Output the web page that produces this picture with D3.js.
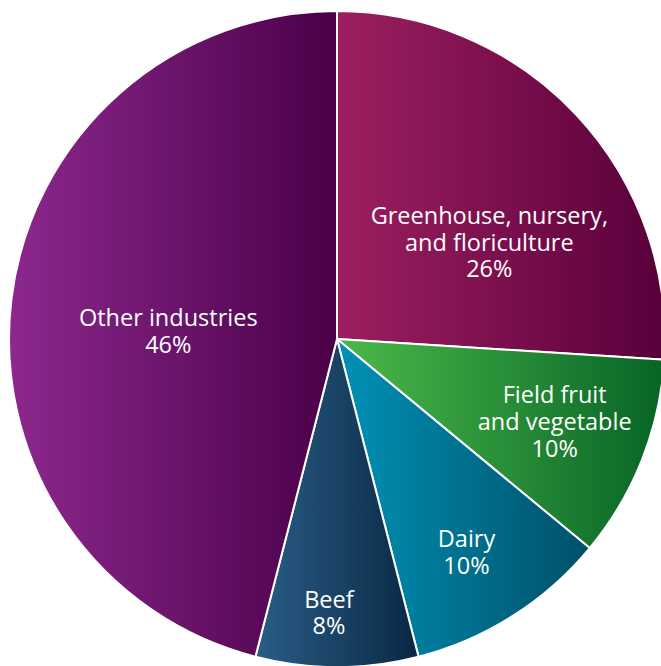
<!DOCTYPE html>
<html lang="en">
<head>
  <meta charset="UTF-8">
  <title>Farm cash receipts share</title>
  <script src="https://cdn.jsdelivr.net/npm/d3@7"></script>
  <style>
    body { margin: 0; background: #fff; }
    .slice_label { font-family: "Open Sans", "DejaVu Sans", sans-serif; font-size: 23.5px; fill: #fff; }
  </style>
</head>
<body>
  <div id="main" style="width: 661px; height: 666px"></div>
  <script>
    // data
    var categories = ["Greenhouse, nursery, and floriculture", "Field fruit and vegetable", "Dairy", "Beef", "Other industries"];
    var values = [26, 10, 10, 8, 46];
    var labelLines = [
      ["Greenhouse, nursery,", "and floriculture", "26%"],
      ["Field fruit", "and vegetable", "10%"],
      ["Dairy", "10%"],
      ["Beef", "8%"],
      ["Other industries", "46%"]
    ];

    // colours: left -> right gradient per slice
    var colorLeft = ["#9d1f60", "#4cba4a", "#0092b6", "#2a5d86", "#8d288e"];
    var colorRight = ["#58003a", "#076426", "#004f68", "#082844", "#4a0048"];

    // label placement: [radius as share of r, angle nudge in degrees]
    var labelPlace = [[0.55, 10.8], [0.71, -0.8], [0.76, 1.1], [0.835, 1.7], [0.515, -4.5]];

    var width = 661, height = 666;
    var cx = 337, cy = 339, r = 328;
    var lineH = 26.7;

    var svg = d3.select("#main").append("svg")
      .attr("width", width)
      .attr("height", height);

    var defs = svg.append("defs");
    categories.forEach(function (c, i) {
      var g = defs.append("linearGradient")
        .attr("id", "grad" + i)
        .attr("x1", "0%").attr("x2", "100%")
        .attr("y1", "0%").attr("y2", "0%");
      g.append("stop").attr("offset", "0%").attr("stop-color", colorLeft[i]);
      g.append("stop").attr("offset", "100%").attr("stop-color", colorRight[i]);
    });

    var pie = d3.pie().sort(null).value(function (d) { return d; });
    var arcs = pie(values);

    var arc = d3.arc().innerRadius(0).outerRadius(r);

    var g = svg.append("g").attr("transform", "translate(" + cx + "," + cy + ")");

    g.selectAll("path.slice").data(arcs).enter().append("path")
      .attr("class", "slice")
      .attr("d", arc)
      .attr("fill", function (d, i) { return "url(#grad" + i + ")"; })
      .attr("stroke", "#fff")
      .attr("stroke-width", 2)
      .attr("stroke-linejoin", "round");

    // labels
    g.selectAll("text.slice_label").data(arcs).enter().append("text")
      .attr("class", "slice_label")
      .attr("text-anchor", "middle")
      .each(function (d, i) {
        var mid = (d.startAngle + d.endAngle) / 2 + labelPlace[i][1] * Math.PI / 180;
        var rr = r * labelPlace[i][0];
        var x = rr * Math.sin(mid), y = -rr * Math.cos(mid);
        var lines = labelLines[i];
        var y0 = y - (lines.length - 1) * lineH / 2;
        var t = d3.select(this);
        lines.forEach(function (s, k) {
          t.append("tspan")
            .attr("x", x)
            .attr("y", y0 + k * lineH)
            .attr("dy", "0.35em")
            .text(s);
        });
      });
  </script>
</body>
</html>
